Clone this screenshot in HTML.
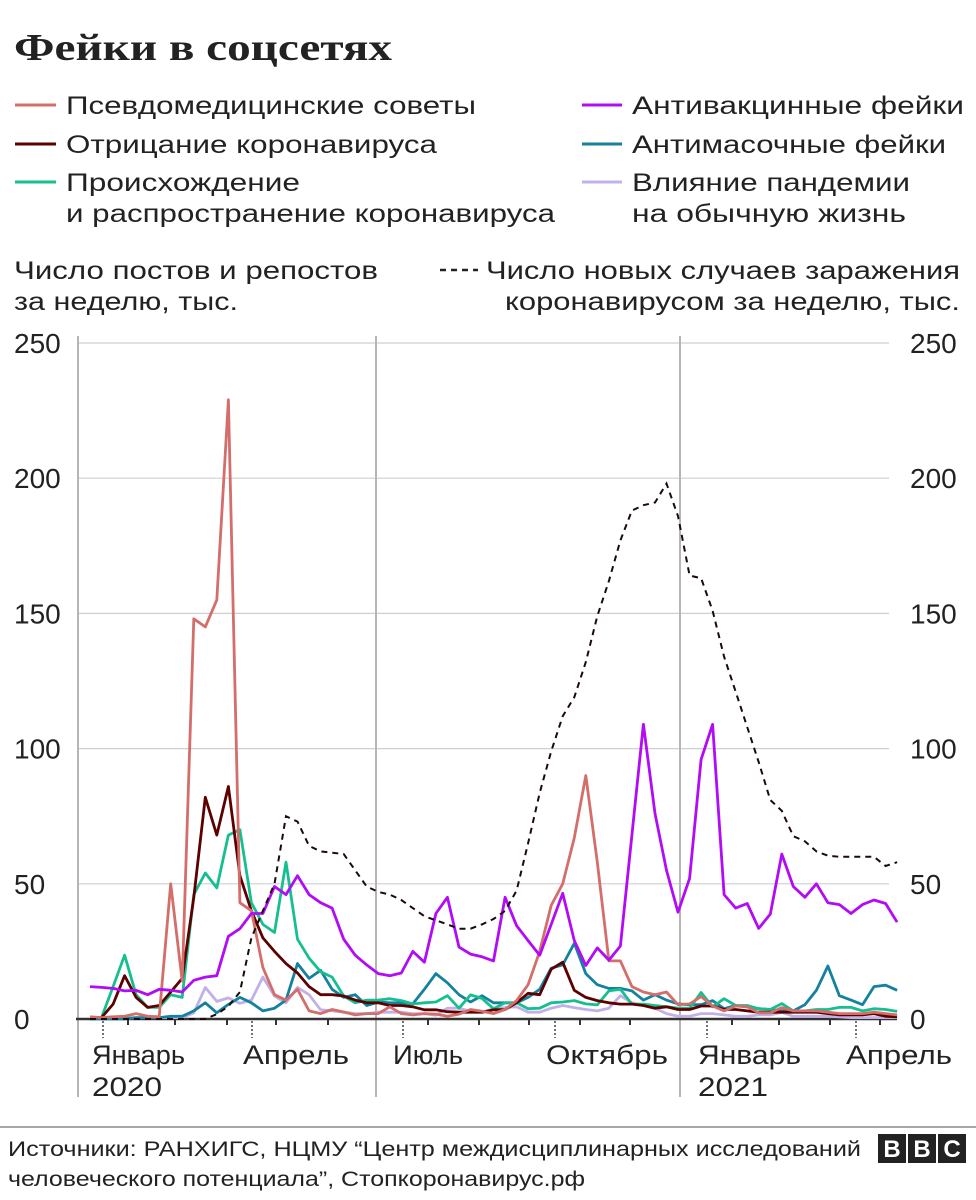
<!DOCTYPE html>
<html><head><meta charset="utf-8">
<style>
html,body{margin:0;padding:0;background:#fff;}
svg{display:block;font-family:"Liberation Sans","Noto Sans CJK SC",sans-serif;}
</style></head>
<body>
<svg id="chart" width="976" height="1200" viewBox="0 0 976 1200" xmlns="http://www.w3.org/2000/svg">
<text x="14" y="60" font-family="Liberation Serif, serif" font-weight="bold" font-size="38" fill="#222" textLength="378" lengthAdjust="spacingAndGlyphs">Фейки в соцсетях</text>
<g font-size="25" fill="#222">
 <g><line x1="15" y1="105" x2="56" y2="105" stroke="#d46e6a" stroke-width="3"/><text x="66" y="114" textLength="410" lengthAdjust="spacingAndGlyphs">Псевдомедицинские советы</text></g>
 <g><line x1="15" y1="144" x2="56" y2="144" stroke="#5c0000" stroke-width="3"/><text x="66" y="153" textLength="371" lengthAdjust="spacingAndGlyphs">Отрицание коронавируса</text></g>
 <g><line x1="15" y1="182" x2="56" y2="182" stroke="#16bf8f" stroke-width="3"/><text x="66" y="191" textLength="234" lengthAdjust="spacingAndGlyphs">Происхождение</text><text x="66" y="222" textLength="489" lengthAdjust="spacingAndGlyphs">и распространение коронавируса</text></g>
 <g><line x1="582" y1="105" x2="622" y2="105" stroke="#b10cf5" stroke-width="3"/><text x="632" y="114" textLength="332" lengthAdjust="spacingAndGlyphs">Антивакцинные фейки</text></g>
 <g><line x1="582" y1="144" x2="622" y2="144" stroke="#14829f" stroke-width="3"/><text x="632" y="153" textLength="314" lengthAdjust="spacingAndGlyphs">Антимасочные фейки</text></g>
 <g><line x1="582" y1="182" x2="622" y2="182" stroke="#c2b0e8" stroke-width="3"/><text x="632" y="191" textLength="278" lengthAdjust="spacingAndGlyphs">Влияние пандемии</text><text x="632" y="222" textLength="274" lengthAdjust="spacingAndGlyphs">на обычную жизнь</text></g>
</g>
<g font-size="25" fill="#222">
 <text x="14" y="279" textLength="364" lengthAdjust="spacingAndGlyphs">Число постов и репостов</text>
 <text x="14" y="310" textLength="224" lengthAdjust="spacingAndGlyphs">за неделю, тыс.</text>
 <line x1="440" y1="270" x2="478" y2="270" stroke="#222" stroke-width="2.5" stroke-dasharray="6,5"/>
 <text x="486" y="279" textLength="474" lengthAdjust="spacingAndGlyphs">Число новых случаев заражения</text>
 <text x="505" y="310" textLength="455" lengthAdjust="spacingAndGlyphs">коронавирусом за неделю, тыс.</text>
</g>
<g id="grid"></g>
<g id="series"></g>
<line x1="0" y1="1127" x2="976" y2="1127" stroke="#888" stroke-width="1.5"/>
<g font-size="21" fill="#222">
 <text x="8" y="1156" textLength="853" lengthAdjust="spacingAndGlyphs">Источники: РАНХИГС, НЦМУ “Центр междисциплинарных исследований</text>
 <text x="8" y="1186" textLength="577" lengthAdjust="spacingAndGlyphs">человеческого потенциала”, Стопкоронавирус.рф</text>
</g>
<g font-size="24" font-weight="bold" fill="#fff" text-anchor="middle">
 <rect x="878" y="1134" width="28" height="29" fill="#222"/><text x="892" y="1157">B</text>
 <rect x="908" y="1134" width="28" height="29" fill="#222"/><text x="922" y="1157">B</text>
 <rect x="938" y="1134" width="28" height="29" fill="#222"/><text x="952" y="1157">C</text>
</g>
</svg>
<script>
const yTicks = [0, 50, 100, 150, 200, 250];
const monthLabels = ["Январь", "Апрель", "Июль", "Октябрь", "Январь", "Апрель"];
const yearLabels = ["2020", "2021"];
const pseudomedical = [0.8,0.5,0.8,1,2,1,0.8,50,14,148,145,155,229,43,40,19,9,7,11,3,2,3.5,2.6,1.5,2,2,4.5,2,1.5,2,1.8,1,1.8,3.5,2.9,2,3.5,6.8,12.7,25,42,50,67,90,58,21.5,21.5,12,10,9,10,5.3,5.6,8.3,4.8,3,4.8,4.5,2.3,2.3,4.2,3,3,3,2.5,2,2,2,2.5,2,1.5];
const denial = [0.5,0.5,5.5,16,8,4.3,5,10,15,45,82,68,86,53,40,30,25,20.5,17,12,9,9,8.5,7,6,6,5,5,4.5,3.4,3.4,2.7,2.5,2.5,2.5,3.4,3.5,6,9.5,9,18.4,21,10.6,8,6.8,6,5.5,5.5,5,4,4.5,3.5,3.5,4.8,4.8,3.5,3.5,3,2.5,2.5,2.5,2.5,2.5,2.5,2,1.5,1.5,1.5,2,1,0.8];
const origin = [0.5,0.5,12,23.6,9,4.3,4.3,9,8,46,54,48.5,68,70,43,35,32,58,29.5,22.5,17.5,15.5,8.5,6,7,7,7.5,6.8,5.6,6,6.3,8.6,4,8.9,7.6,3.8,6,6,3.8,4,6,6.3,6.8,5.6,5.2,10.4,11,5.5,5.5,5,4.5,4,4,9.8,4.5,7.5,5,5,3.8,3.5,5.7,3,3,3.5,3.5,4.3,4.3,3,3.8,3.5,2.8];
const antivax = [12,11.7,11.3,10.4,10.6,9,11,10.6,10,14.3,15.5,16,30.6,33.4,39,39,49,46,53,46,43,41,29.5,23.6,20,16.8,16,17,25,21,39,45,26.6,24,23,21.5,45,34.5,29,23.6,35,46.5,29,19.8,26.3,21.8,27,68,109,76,55,39.5,52,96,109,46,41,42.7,33.5,38.8,61,49,45,50,43,42.3,39,42.3,44,42.7,35.8];
const antimask = [0,0,0,0,0.5,0.5,0.5,1,1,3,6,2.3,5.4,8,6,3,4,7,20.5,15,18,11,8,9,5,6.3,6,6,5.6,11,16.8,13.4,9,6.3,8.6,6,6,6,8,11,18.8,20,28,16.8,12.7,11.3,11.3,10.4,7,9,7,5.6,5.3,5.3,6.8,3.8,5,4.5,3.8,3.5,3,3,5.3,10.6,19.6,8.6,7,5.3,12,12.5,10.6];
const impact = [0.5,0.5,0.5,0.5,0.5,0.5,0.5,0.5,0.5,2.3,11.7,6.5,7.8,5.8,7,15.5,8.5,6,11.7,9,3.4,3,2.5,2,2,2.5,2.5,2.5,2,2,1.4,4,4,2.9,2.5,3.8,4.2,4.5,2.5,2.5,4,5,4.2,3.5,3,4,8.6,6,5,4,2,1,1,2,2,1.5,1,1,1.5,1.5,2.5,1,1,1,1,0.8,0.5,0.5,0.5,0.5,0.5];
const cases = [0,0,0,0,0,0,0,0,0,0,0,1.8,4.7,10,30,40,50,75,73,64,62,61.5,61,55,49,47,46,44,41,38,36.5,35,33.4,33.4,35,37,40,47.5,65,83.6,99,112,119,132,149,162,177,188,190,191,198,186,164,163,151,134,121,108,95,81,77,67.6,65.7,62,60.4,60,60,60,60,56.6,58];

const X0 = 90, DX = 11.53, Y0 = 1019, KY = 2.704;
function xScale(i){ return X0 + i*DX; }
function yScale(v){ return Y0 - v*KY; }
const NS = "http://www.w3.org/2000/svg";
function mk(tag, attrs, parent){ const e=document.createElementNS(NS,tag); for(const k in attrs) e.setAttribute(k, attrs[k]); parent.appendChild(e); return e; }
const grid = document.getElementById('grid');
const ser = document.getElementById('series');
yTicks.forEach(t=>{
  if(t>0){ const g=mk('line',{x1:78,x2:889,y1:yScale(t),y2:yScale(t),stroke:'#cfcfcf','stroke-width':1.2},grid);
    
     }
  const l=mk('text',{x:14,y:yScale(t)+10,'font-size':28,fill:'#222'},grid); l.textContent=t;
  
  
  const r=mk('text',{x:910,y:yScale(t)+10,'font-size':28,fill:'#222'},grid); r.textContent=t;
  
  
});
[78,376,680].forEach(x=>{ const v=mk('line',{x1:x,x2:x,y1:336,y2:1097,stroke:'#b5b5b5','stroke-width':2},grid);
  
   });
const base=mk('line',{x1:76,x2:897,y1:1019,y2:1019,stroke:'#333','stroke-width':2.5},grid);


[128,175,227,276,328,428,479,529,580,630,732,779,830,880].forEach(x=>{ const t=mk('line',{x1:x,x2:x,y1:1019,y2:1025,stroke:'#333','stroke-width':2},grid);
  
   });
const labelCenters=[103,252,403,555,707,856];
const labelX=[92,243,393,546,698,846];
const labelW=[93,106,70,122,103,106];
labelCenters.forEach((x,k)=>{ const d=mk('line',{x1:x,x2:x,y1:1021,y2:1038,stroke:'#444','stroke-width':1.5,'stroke-dasharray':'2,2'},grid);
  
  
  const t=mk('text',{x:labelX[k],y:1064,'font-size':27,fill:'#222',textLength:labelW[k],lengthAdjust:'spacingAndGlyphs'},grid); t.textContent=monthLabels[k];
  
   });
[[92,0],[698,1]].forEach(([x,k])=>{ const t=mk('text',{x:x,y:1096,'font-size':27,fill:'#222',textLength:70,lengthAdjust:'spacingAndGlyphs'},grid); t.textContent=yearLabels[k];
  
   });
function pts(arr){ return arr.map((v,i)=>xScale(i).toFixed(1)+','+yScale(v).toFixed(1)).join(' '); }
const defs=[['impact',impact,'#c2b0e8'],['antimask',antimask,'#14829f'],['origin',origin,'#16bf8f'],['denial',denial,'#5c0000'],['pseudomedical',pseudomedical,'#d46e6a'],['antivax',antivax,'#b10cf5']];
defs.forEach(([n,arr,c])=>{ const p=mk('polyline',{points:pts(arr),fill:'none',stroke:c,'stroke-width':2.8,'stroke-linejoin':'round'},ser);
  
   });
const cp=mk('polyline',{points:pts(cases),fill:'none',stroke:'#1a0a10','stroke-width':2,'stroke-dasharray':'6,5'},ser);


</script>
</body></html>
